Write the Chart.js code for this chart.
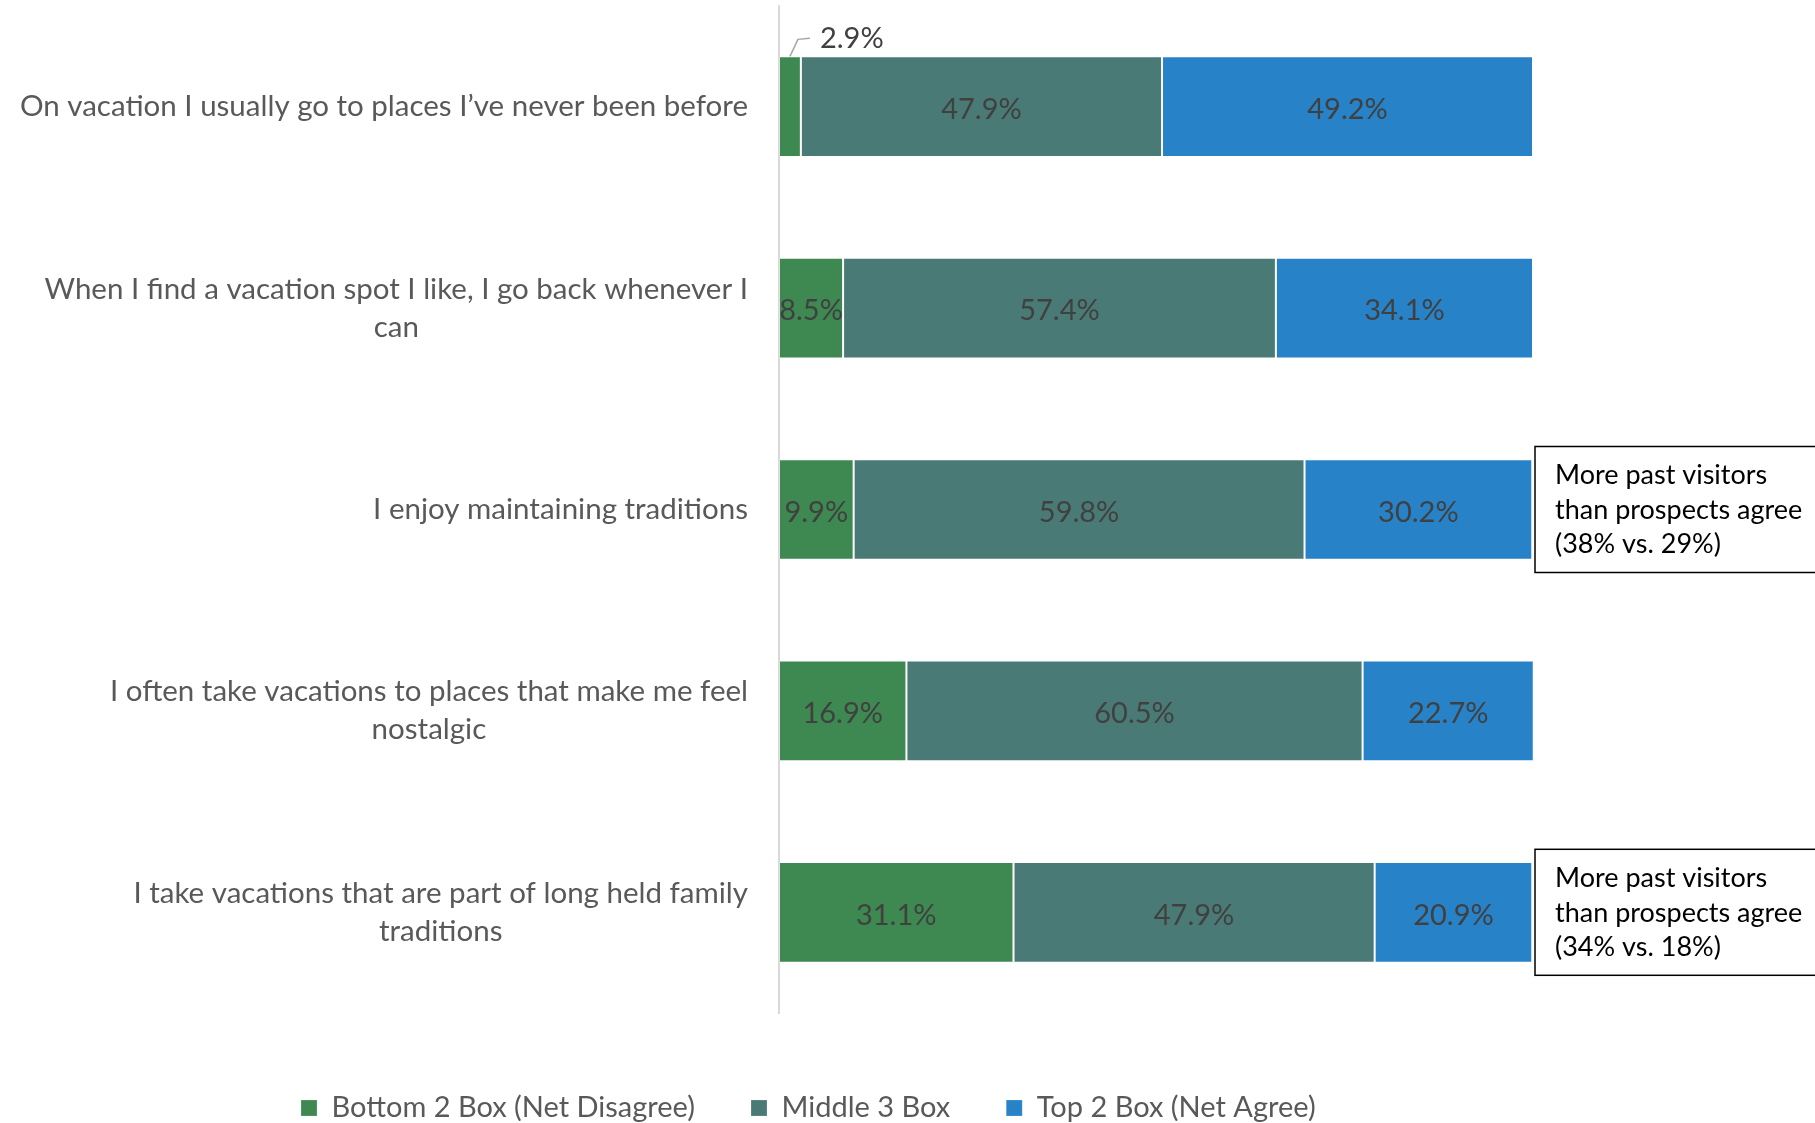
<!DOCTYPE html>
<html>
<head>
<meta charset="utf-8">
<title>Vacation attitudes</title>
<script src="https://cdn.jsdelivr.net/npm/chart.js@4.4.1/dist/chart.umd.min.js"></script>
<style>
  html, body { margin: 0; padding: 0; background: #fff; }
  #wrap { width: 1815px; height: 1123px; position: relative; }
</style>
</head>
<body>
<div id="wrap"><canvas id="attitudeChart"></canvas></div>
<script>
const statements = [
  ['On vacation I usually go to places I\u2019ve never been before'],
  ['When I find a vacation spot I like, I go back whenever I', 'can'],
  ['I enjoy maintaining traditions'],
  ['I often take vacations to places that make me feel', 'nostalgic'],
  ['I take vacations that are part of long held family', 'traditions']
];
const seriesNames = ['Bottom 2 Box (Net Disagree)', 'Middle 3 Box', 'Top 2 Box (Net Agree)'];
const bottomBox = [2.9, 8.5, 9.9, 16.9, 31.1];
const middleBox = [47.9, 57.4, 59.8, 60.5, 47.9];
const topBox = [49.2, 34.1, 30.2, 22.7, 20.9];
const callouts = [
  null,
  null,
  ['More past visitors', 'than prospects agree', '(38% vs. 29%)'],
  null,
  ['More past visitors', 'than prospects agree', '(34% vs. 18%)']
];

const FONT = 'Lato, "Noto Sans", sans-serif';
const colors = ['#3d8951', '#4a7a76', '#2782c8'];

// draws statement labels, value labels and the side notes
const annotate = {
  id: 'annotate',
  afterDatasetsDraw(chart) {
    const ctx = chart.ctx;
    const area = chart.chartArea;
    const yScale = chart.scales.y;
    ctx.save();

    // statement labels: block right-aligned to the axis, lines centred in block
    ctx.font = '29.5px ' + FONT;
    ctx.fillStyle = '#595959';
    ctx.textAlign = 'center';
    ctx.textBaseline = 'middle';
    statements.forEach((lines, i) => {
      const cy = yScale.getPixelForValue(i);
      const w = Math.max(...lines.map(l => ctx.measureText(l).width));
      const cx = area.left - 31 - w / 2;
      const lh = 38;
      lines.forEach((l, k) => {
        ctx.fillText(l, cx, cy - (lines.length - 1) * lh / 2 + k * lh);
      });
    });

    // value labels on each segment
    ctx.font = '29px ' + FONT;
    chart.data.datasets.forEach((ds, d) => {
      const meta = chart.getDatasetMeta(d);
      meta.data.forEach((bar, i) => {
        const v = ds.data[i];
        const cx = (bar.x + bar.base) / 2;
        const txt = v.toFixed(1) + '%';
        ctx.fillStyle = '#404040';
        if (v < 5) {
          const top = bar.y - bar.height / 2;
          ctx.strokeStyle = '#a6a6a6';
          ctx.lineWidth = 1.5;
          ctx.beginPath();
          ctx.moveTo(cx, top);
          ctx.lineTo(cx + 8, top - 17);
          ctx.lineTo(cx + 20, top - 18);
          ctx.stroke();
          ctx.textAlign = 'left';
          ctx.fillText(txt, cx + 30, top - 18);
        } else {
          ctx.textAlign = 'center';
          ctx.fillText(txt, cx, bar.y + 3);
        }
      });
    });

    // side notes next to the bars
    ctx.font = '27px ' + FONT;
    ctx.textAlign = 'left';
    callouts.forEach((lines, i) => {
      if (!lines) return;
      const cy = yScale.getPixelForValue(i);
      const x = area.right + 2;
      ctx.fillStyle = '#fff';
      ctx.fillRect(x, cy - 63, 400, 126);
      ctx.strokeStyle = '#000';
      ctx.lineWidth = 1.5;
      ctx.strokeRect(x, cy - 63, 400, 126);
      ctx.fillStyle = '#000';
      lines.forEach((l, k) => ctx.fillText(l, x + 20, cy - 34 + k * 34.5));
    });

    ctx.restore();
  }
};

const ctx = document.getElementById('attitudeChart').getContext('2d');
const attitudeChart = new Chart(ctx, {
  type: 'bar',
  data: {
    labels: statements.map(s => s.join(' ')),
    datasets: [
      { label: seriesNames[0], data: bottomBox, backgroundColor: colors[0] },
      { label: seriesNames[1], data: middleBox, backgroundColor: colors[1] },
      { label: seriesNames[2], data: topBox, backgroundColor: colors[2] }
    ]
  },
  options: {
    indexAxis: 'y',
    responsive: true,
    maintainAspectRatio: false,
    animation: false,
    datasets: {
      bar: {
        categoryPercentage: 1,
        barPercentage: 0.5,
        borderWidth: 1,
        borderColor: 'rgba(255,255,255,0.2)',
        borderSkipped: false
      }
    },
    layout: { padding: { left: 245, right: 282, top: 6, bottom: -9.5 } },
    scales: {
      x: {
        stacked: true,
        min: 0,
        max: 100,
        grid: { display: false },
        border: { display: false },
        ticks: { display: false },
        afterFit(scale) { scale.height = 24.5; }
      },
      y: {
        stacked: true,
        grid: { display: false },
        border: { display: true, color: '#d9d9d9', width: 2 },
        ticks: { display: false },
        afterFit(scale) { scale.width = 534; }
      }
    },
    plugins: {
      legend: {
        display: true,
        position: 'bottom',
        align: 'start',
        labels: {
          boxWidth: 16,
          boxHeight: 16,
          padding: 56,
          color: '#595959',
          font: { family: FONT, size: 29 }
        }
      },
      tooltip: { enabled: false }
    }
  },
  plugins: [annotate]
});
</script>
</body>
</html>
